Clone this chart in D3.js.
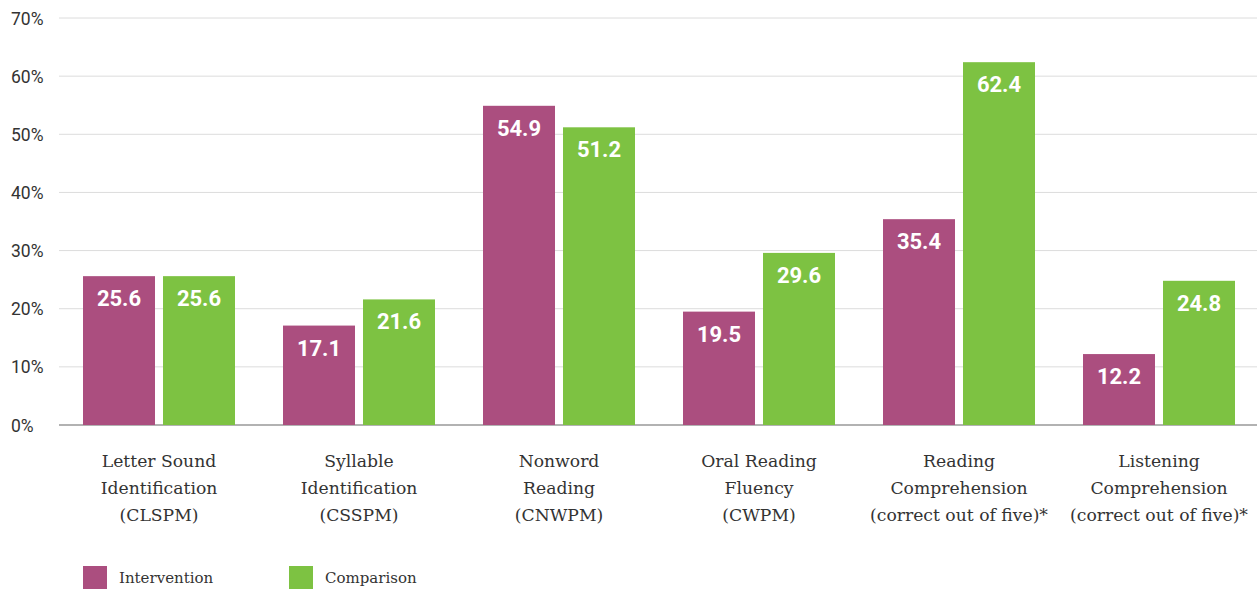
<!DOCTYPE html>
<html><head><meta charset="utf-8">
<script src="https://cdn.jsdelivr.net/npm/d3@7"></script>
<style>body{margin:0;background:#fff}svg{display:block}</style>
</head><body>
<svg id="c" width="1257" height="589"></svg>
<script>
const categories = [
  ["Letter Sound","Identification","(CLSPM)"],
  ["Syllable","Identification","(CSSPM)"],
  ["Nonword","Reading","(CNWPM)"],
  ["Oral Reading","Fluency","(CWPM)"],
  ["Reading","Comprehension","(correct out of five)*"],
  ["Listening","Comprehension","(correct out of five)*"]
];
const intervention = [25.6, 17.1, 54.9, 19.5, 35.4, 12.2];
const comparison = [25.6, 21.6, 51.2, 29.6, 62.4, 24.8];
const yTicks = [0,10,20,30,40,50,60,70];
const seriesNames = ["Intervention","Comparison"];
const colors = ["#AB4E7F","#7DC242"];

(function(){
const svg = d3.select("#c");
const mLeft = 59, mRight = 1259, mTop = 18, mBottom = 425;
const x = d3.scaleBand().domain(d3.range(categories.length)).range([mLeft,mRight]).paddingInner(0).paddingOuter(0);
const x1 = d3.scaleBand().domain([0,1]).range([24,176]).paddingInner(8/80);
const y = d3.scaleLinear().domain([0,70]).range([mBottom,mTop]);

svg.append("g").selectAll("line").data(yTicks).join("line")
  .attr("x1",mLeft).attr("x2",1257).attr("y1",d=>y(d)).attr("y2",d=>y(d))
  .attr("stroke",d=>d===0?"#999":"#dcdcdc").attr("stroke-width",d=>d===0?1.5:1);
svg.append("g").selectAll("text").data(yTicks).join("text")
  .attr("x",11).attr("y",d=>y(d)+6.5).text(d=>d+"%")
  .attr("font-family","Roboto, sans-serif").attr("font-size",17.5).attr("fill","#333");

const data = categories.map((c,i)=>[intervention[i],comparison[i]]);
const g = svg.append("g").selectAll("g").data(data).join("g")
  .attr("transform",(d,i)=>`translate(${x(i)},0)`);
g.selectAll("rect").data(d=>d).join("rect")
  .attr("x",(d,j)=>x1(j)).attr("width",x1.bandwidth())
  .attr("y",d=>y(d)).attr("height",d=>mBottom-y(d)).attr("fill",(d,j)=>colors[j]);
g.selectAll("text.v").data(d=>d).join("text").attr("class","v")
  .attr("x",(d,j)=>x1(j)+x1.bandwidth()/2).attr("y",d=>y(d)+30)
  .attr("text-anchor","middle").attr("fill","#fff").attr("font-weight","bold")
  .attr("font-family","'Roboto Slab', Roboto, sans-serif").attr("font-size",22)
  .text(d=>d.toFixed(1));

const cl = svg.append("g").selectAll("text").data(categories).join("text")
  .attr("transform",(d,i)=>`translate(${x(i)+x.bandwidth()/2},0)`)
  .attr("text-anchor","middle").attr("font-family","'Roboto Slab','DejaVu Serif',serif")
  .attr("font-size",17.2).attr("fill","#333");
cl.selectAll("tspan").data(d=>d).join("tspan").attr("x",0).attr("y",(d,k)=>467+k*27).text(d=>d);

const lg = svg.append("g").selectAll("g").data(seriesNames).join("g")
  .attr("transform",(d,i)=>`translate(${83+i*206},566)`);
lg.append("rect").attr("width",24).attr("height",24).attr("fill",(d,i)=>colors[i]);
lg.append("text").attr("x",36).attr("y",17).text(d=>d)
  .attr("font-family","'Roboto Slab','DejaVu Serif',serif").attr("font-size",15).attr("fill","#333");
})();
</script>
</body></html>
